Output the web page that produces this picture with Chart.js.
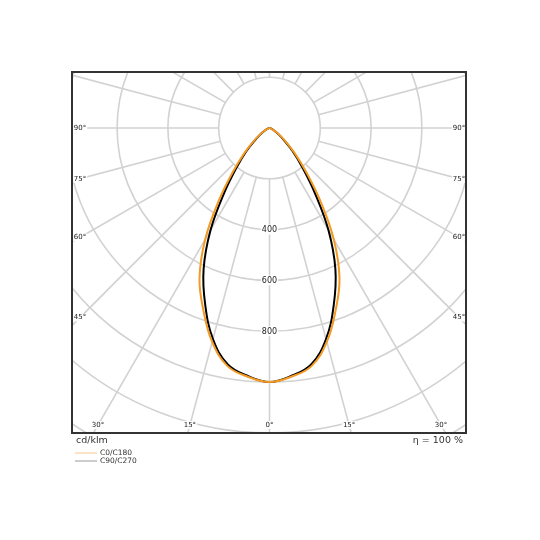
<!DOCTYPE html>
<html><head><meta charset="utf-8">
<script src="https://cdn.jsdelivr.net/npm/chart.js@4.4.1/dist/chart.umd.min.js"></script>
<style>html,body{margin:0;padding:0;background:#fff}#wrap{width:540px;height:540px;position:relative}</style>
</head><body><div id="wrap"><canvas id="c"></canvas></div>
<script>
// gamma angles (degrees from nadir)
const angles   = [0, 5, 10, 15, 20, 25, 30, 35, 40, 45, 50, 55, 60, 65, 70, 75, 80, 85, 90];
// luminous intensity, cd/klm
const c0c180   = [1000, 983, 952, 872, 762, 652, 506, 346, 222, 140, 83, 49, 27, 15, 8, 4, 2, 1, 0];
const c90c270  = [1000, 980, 945, 860, 740, 614, 464, 310, 200, 128, 75, 44, 25, 14, 8, 4, 2, 1, 0];
const seriesNames = ['C0/C180', 'C90/C270'];
const ringValues = [200, 400, 600, 800, 1000, 1200, 1400, 1600];
const ringLabelValues = [400, 600, 800];
const spokeAngles = [0,15,30,45,60,75,90,105,120,135,150,165,180,195,210,225,240,255,270,285,300,315,330,345];
const edgeLabelAngles = [-90,-75,-60,-45,-30,-15,0,15,30,45,60,75,90];
const unitText = 'cd/klm';
const etaText = 'η = 100 %';

function toXY(vals){
  const pts = [];
  for (let i = angles.length - 1; i >= 0; i--) {
    const a = angles[i]*Math.PI/180;
    pts.push({x: -vals[i]*Math.sin(a), y: -vals[i]*Math.cos(a)});
  }
  for (let i = 1; i < angles.length; i++) {
    const a = angles[i]*Math.PI/180;
    pts.push({x: vals[i]*Math.sin(a), y: -vals[i]*Math.cos(a)});
  }
  return pts;
}

const K = 1000/254;
const FONT = '"DejaVu Sans", sans-serif';

const polarGrid = {
  id: 'polarGrid',
  beforeDatasetsDraw(chart){
    const {ctx, chartArea: ca, scales:{x, y}} = chart;
    const cx = x.getPixelForValue(0), cy = y.getPixelForValue(0);
    const pr = v => x.getPixelForValue(v) - cx;
    ctx.save();
    ctx.beginPath(); ctx.rect(ca.left, ca.top, ca.right-ca.left, ca.bottom-ca.top); ctx.clip();
    ctx.strokeStyle = '#d2d2d2'; ctx.lineWidth = 1.6;
    ringValues.forEach(v => { ctx.beginPath(); ctx.arc(cx, cy, pr(v), 0, Math.PI*2); ctx.stroke(); });
    const r0 = pr(ringValues[0]), r1 = pr(3000);
    spokeAngles.forEach(d => {
      const a = d*Math.PI/180;
      const sx = Math.sin(a), sy = Math.cos(a);
      ctx.beginPath(); ctx.moveTo(cx + r0*sx, cy + r0*sy); ctx.lineTo(cx + r1*sx, cy + r1*sy); ctx.stroke();
    });
    // ring value labels
    ctx.font = '8px ' + FONT; ctx.textAlign = 'center'; ctx.textBaseline = 'middle';
    ringLabelValues.forEach(v => {
      const py = cy + pr(v);
      const w = ctx.measureText(String(v)).width;
      ctx.fillStyle = '#fff'; ctx.fillRect(cx - w/2 - 1, py - 5, w + 2, 10);
      ctx.fillStyle = '#222'; ctx.fillText(String(v), cx, py + 0.5);
    });
    // angle labels along inset edges
    ctx.font = '7px ' + FONT;
    const inL = ca.left + 8, inR = ca.right - 7, inB = ca.bottom - 8;
    edgeLabelAngles.forEach(d => {
      const a = d*Math.PI/180;
      const sx = Math.sin(a), sy = Math.cos(a);
      let t = Infinity;
      if (sx < -1e-6) t = Math.min(t, (inL - cx)/sx);
      if (sx > 1e-6) t = Math.min(t, (inR - cx)/sx);
      if (sy > 1e-6) t = Math.min(t, (inB - cy)/sy);
      const px = cx + t*sx, py = cy + t*sy;
      const txt = Math.abs(d) + '°';
      const w = ctx.measureText(txt).width;
      ctx.fillStyle = 'rgba(255,255,255,0.9)'; ctx.fillRect(px - w/2 - 1, py - 4, w + 2, 8);
      ctx.fillStyle = '#222'; ctx.fillText(txt, px, py);
    });
    ctx.restore();
  },
  afterDraw(chart){
    const {ctx, chartArea: ca} = chart;
    ctx.save();
    ctx.strokeStyle = '#333'; ctx.lineWidth = 2;
    ctx.strokeRect(ca.left, ca.top, ca.right-ca.left, ca.bottom-ca.top);
    ctx.fillStyle = '#333'; ctx.font = '9.5px ' + FONT; ctx.textBaseline = 'middle';
    ctx.textAlign = 'left'; ctx.fillText(unitText, ca.left + 4, ca.bottom + 7.5);
    ctx.textAlign = 'right'; ctx.fillText(etaText, ca.right - 3, ca.bottom + 7.5);
    const cols = ['#f6c88a', '#9a9a9a'];
    ctx.font = '7.5px ' + FONT;
    seriesNames.forEach((n, i) => {
      const ly = ca.bottom + 20 + i*8;
      ctx.strokeStyle = cols[i]; ctx.lineWidth = 1;
      ctx.beginPath(); ctx.moveTo(ca.left + 3, ly); ctx.lineTo(ca.left + 25, ly); ctx.stroke();
      ctx.fillStyle = '#333'; ctx.textAlign = 'left'; ctx.fillText(n, ca.left + 28, ly);
    });
    ctx.restore();
  }
};

new Chart(document.getElementById('c'), {
  type: 'scatter',
  data: { datasets: [
    { label: seriesNames[0], data: toXY(c0c180), borderColor: '#f39a22', borderWidth: 2, showLine: true, pointRadius: 0, tension: 0.4, fill: false },
    { label: seriesNames[1], data: toXY(c90c270), borderColor: '#000', borderWidth: 2, showLine: true, pointRadius: 0, tension: 0.4, fill: false }
  ]},
  options: {
    responsive: true, maintainAspectRatio: false, animation: false,
    layout: { padding: { left: 72, top: 72, right: 74, bottom: 107 } },
    plugins: { legend: { display: false }, tooltip: { enabled: false } },
    scales: {
      x: { type: 'linear', display: false, min: -197.5*K, max: 196.5*K },
      y: { type: 'linear', display: false, min: -305*K, max: 56*K }
    }
  },
  plugins: [polarGrid]
});
</script></body></html>
